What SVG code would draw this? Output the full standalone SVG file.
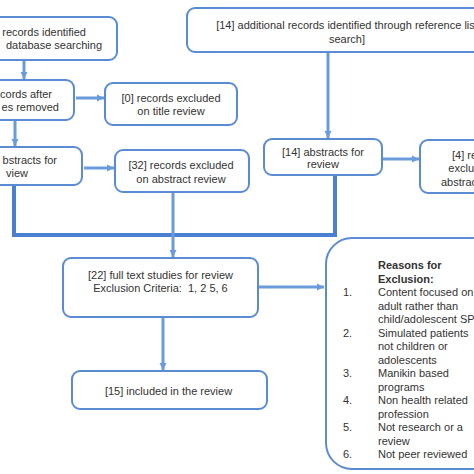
<svg xmlns="http://www.w3.org/2000/svg" width="474" height="474" viewBox="0 0 474 474">
<style>
.box{fill:#fff;stroke:#5b8bd2;stroke-width:2}
.t{font-family:"Liberation Sans",Arial,sans-serif;font-size:11px;fill:#333}
.c{text-anchor:middle}
.e{text-anchor:end}
.b{font-weight:bold}
.arr{stroke:#6a9bdb;stroke-width:3;fill:none;marker-end:url(#ah)}
.thick{stroke:#4a80d2;stroke-width:4;fill:none}
</style>
<defs>
<marker id="ah" markerUnits="userSpaceOnUse" markerWidth="8" markerHeight="8" refX="7" refY="4" orient="auto">
<path d="M0,0.5 L7,4 L0,7.5 Z" fill="#6a9bdb"/>
</marker>
</defs>
<rect width="474" height="474" fill="#fff"/>
<g id="connectors">
<path class="thick" d="M14,186 L14,235 L335,235 L335,176"/>
<line class="arr" x1="24" y1="60" x2="24" y2="79"/>
<line class="arr" x1="76" y1="98" x2="104" y2="98"/>
<line class="arr" x1="15" y1="121" x2="15" y2="146"/>
<line class="arr" x1="84" y1="168" x2="114" y2="168"/>
<line class="arr" x1="173" y1="193" x2="173" y2="257"/>
<line class="arr" x1="328" y1="53" x2="328" y2="138"/>
<line class="arr" x1="383" y1="159" x2="419" y2="159"/>
<line class="arr" x1="259" y1="287" x2="324" y2="287"/>
<line class="arr" x1="163" y1="318" x2="163" y2="370"/>
</g>
<g id="n1">
<rect class="box" x="-50" y="17" width="167" height="43" rx="8"/>
<text class="t e" x="86" y="36">records identified</text>
<text class="t e" x="102" y="49">database searching</text>
</g>
<g id="n2">
<rect class="box" x="-52" y="80" width="126" height="40" rx="8"/>
<text class="t e" x="52" y="98">cords after</text>
<text class="t e" x="59" y="111">es removed</text>
</g>
<g id="n3">
<rect class="box" x="105" y="83" width="132" height="42" rx="8"/>
<text class="t c" x="171" y="102">[0] records excluded</text>
<text class="t c" x="171" y="115">on title review</text>
</g>
<g id="n4">
<rect class="box" x="-52" y="147" width="134" height="38" rx="8"/>
<text class="t e" x="57" y="164">bstracts for</text>
<text class="t e" x="28" y="177">view</text>
</g>
<g id="n5">
<rect class="box" x="115" y="150" width="134" height="42" rx="8"/>
<text class="t c" x="181" y="169">[32] records excluded</text>
<text class="t c" x="181" y="183">on abstract review</text>
</g>
<g id="n6">
<rect class="box" x="187" y="8" width="322" height="44" rx="8"/>
<text class="t c" x="347" y="29">[14] additional records identified through reference list</text>
<text class="t c" x="347" y="43">search]</text>
</g>
<g id="n7">
<rect class="box" x="264" y="139" width="118" height="36" rx="8"/>
<text class="t c" x="323" y="156">[14] abstracts for</text>
<text class="t c" x="323" y="168">review</text>
</g>
<g id="n8">
<rect class="box" x="420" y="140" width="116" height="53" rx="8"/>
<text class="t c" x="478" y="159">[4] records</text>
<text class="t c" x="478" y="172">excluded on</text>
<text class="t c" x="478" y="186">abstract review</text>
</g>
<g id="n9">
<rect class="box" x="63" y="258" width="195" height="59" rx="8"/>
<text class="t c" x="160.5" y="279">[22] full text studies for review</text>
<text class="t c" x="160.5" y="292" xml:space="preserve">Exclusion Criteria:  1, 2 5, 6</text>
</g>
<g id="n10">
<rect class="box" x="72" y="371" width="195" height="38" rx="8"/>
<text class="t c" x="168.5" y="395">[15] included in the review</text>
</g>
<g id="n11">
<rect class="box" x="326" y="238" width="200" height="231" rx="26"/>
<text class="t b" x="378" y="269">Reasons for</text>
<text class="t b" x="378" y="282.5">Exclusion:</text>
<text class="t" x="343" y="296">1.</text>
<text class="t" x="378" y="296">Content focused on</text>
<text class="t" x="378" y="309.5">adult rather than</text>
<text class="t" x="378" y="323">child/adolescent SP</text>
<text class="t" x="343" y="336.5">2.</text>
<text class="t" x="378" y="336.5">Simulated patients</text>
<text class="t" x="378" y="350">not children or</text>
<text class="t" x="378" y="363.5">adolescents</text>
<text class="t" x="343" y="377">3.</text>
<text class="t" x="378" y="377">Manikin based</text>
<text class="t" x="378" y="390.5">programs</text>
<text class="t" x="343" y="404">4.</text>
<text class="t" x="378" y="404">Non health related</text>
<text class="t" x="378" y="417.5">profession</text>
<text class="t" x="343" y="431">5.</text>
<text class="t" x="378" y="431">Not research or a</text>
<text class="t" x="378" y="444.5">review</text>
<text class="t" x="343" y="458">6.</text>
<text class="t" x="378" y="458">Not peer reviewed</text>
</g>
</svg>
